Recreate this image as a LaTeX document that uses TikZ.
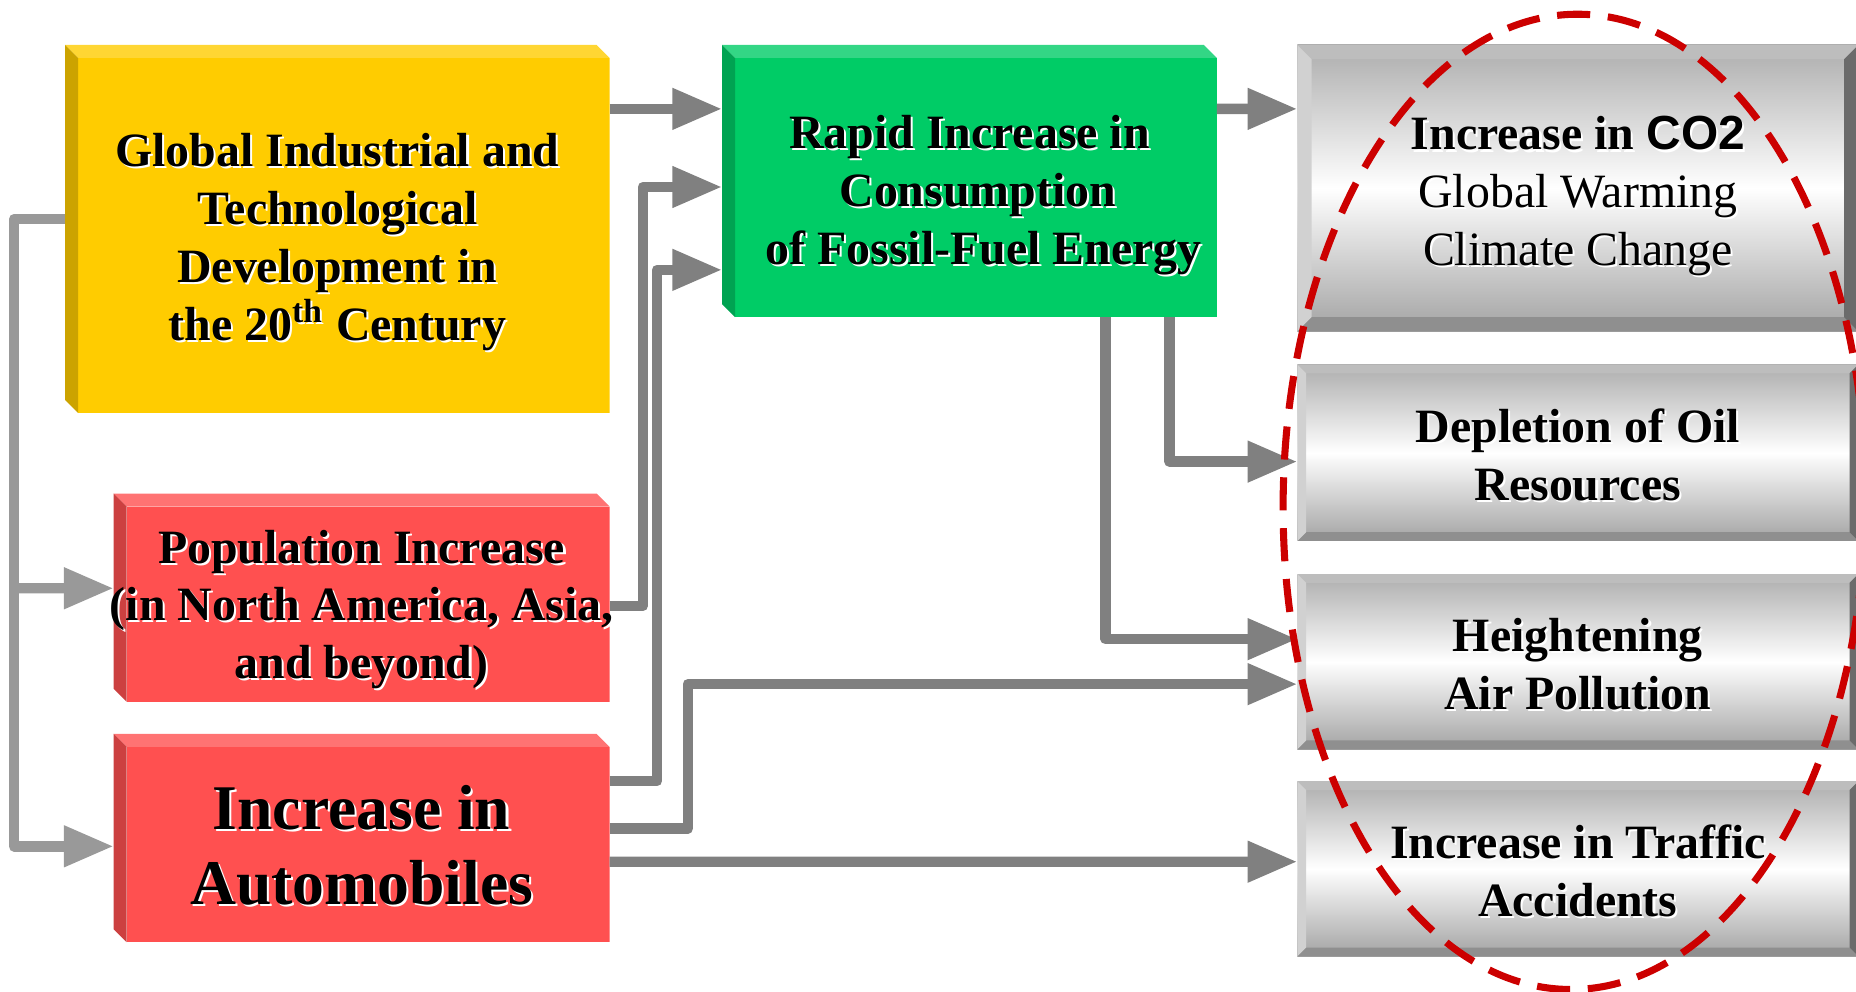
\documentclass[tikz,border=0pt]{standalone}
\usepackage{fontspec}
\setmainfont{Liberation Serif}
\setsansfont{Liberation Sans}
\usetikzlibrary{positioning,arrows.meta}

\definecolor{amarillo}{HTML}{FFCC00}
\definecolor{amarilloclaro}{HTML}{FFD633}
\definecolor{amarillooscuro}{HTML}{CCA300}
\definecolor{verde}{HTML}{00CC66}
\definecolor{verdeclaro}{HTML}{33D685}
\definecolor{verdeoscuro}{HTML}{00A352}
\definecolor{rojo}{HTML}{FF5050}
\definecolor{rojoclaro}{HTML}{FF7373}
\definecolor{rojooscuro}{HTML}{CC4040}
\definecolor{grisarriba}{HTML}{ADADAD}
\definecolor{grisabajo}{HTML}{A3A3A3}
\definecolor{biselsup}{HTML}{BDBDBD}
\definecolor{biselizq}{HTML}{D1D1D1}
\definecolor{biselinf}{HTML}{8F8F8F}
\definecolor{biselder}{HTML}{6B6B6B}
\definecolor{flechagris}{HTML}{808080}
\definecolor{flechaclara}{HTML}{999999}
\definecolor{elipse}{HTML}{CC0000}

\def\ppbb{path picture bounding box}
\newcommand{\consombra}[1]{\leavevmode\rlap{\kern0.5pt\raisebox{-0.5pt}{\textcolor{white}{#1}}}#1}
\newcommand{\puntal}[1]{\rule{0pt}{#1}}

\tikzset{
  estilo diagrama/.style={
      flecha/.style={draw=flechagris, line width=2.5pt, line join=round, -{Triangle[length=4.2mm,width=3.3mm]}},
      flecha clara/.style={flecha, draw=flechaclara},
      contorno/.style={draw=elipse, line width=1.7pt, dash pattern=on 2.8mm off 1.5mm},
      every node/.style={font={\fontsize{11.5}{13.9}\selectfont\bfseries}},
    },
  caja/.style n args={3}{rectangle, inner sep=0pt, outer sep=0pt, align=center,
      path picture={
        \fill[#1] ([xshift=1.1mm]\ppbb.south west) rectangle ([yshift=-1.1mm]\ppbb.north east);
        \fill[#2] (\ppbb.north west) -- ([xshift=-1.1mm]\ppbb.north east) -- ([yshift=-1.1mm]\ppbb.north east)
          -- ([shift={(1.1mm,-1.1mm)}]\ppbb.north west) -- cycle;
        \fill[#3] (\ppbb.north west) -- ([shift={(1.1mm,-1.1mm)}]\ppbb.north west) -- ([xshift=1.1mm]\ppbb.south west)
          -- ([yshift=1.1mm]\ppbb.south west) -- cycle;
      }},
  gris/.style={rectangle, inner sep=0pt, outer sep=0pt, align=center, minimum width=4.74cm,
      path picture={
        \shade[top color=grisarriba, bottom color=grisabajo, middle color=white] (\ppbb.south west) rectangle (\ppbb.north east);
        \fill[biselsup] (\ppbb.north west) -- (\ppbb.north east) -- ([shift={(-#1,-#1)}]\ppbb.north east)
          -- ([shift={(#1,-#1)}]\ppbb.north west) -- cycle;
        \fill[biselinf] (\ppbb.south west) -- (\ppbb.south east) -- ([shift={(-#1,#1)}]\ppbb.south east)
          -- ([shift={(#1,#1)}]\ppbb.south west) -- cycle;
        \fill[biselizq] (\ppbb.north west) -- ([shift={(#1,-#1)}]\ppbb.north west) -- ([shift={(#1,#1)}]\ppbb.south west)
          -- (\ppbb.south west) -- cycle;
        \fill[biselder] (\ppbb.north east) -- ([shift={(-#1,-#1)}]\ppbb.north east) -- ([shift={(-#1,#1)}]\ppbb.south east)
          -- (\ppbb.south east) -- cycle;
      }},
  gris/.default=0.75mm,
}

\begin{document}
\begin{tikzpicture}[estilo diagrama]
  \useasboundingbox (0,0) rectangle (15.68,8.38);

  % causas
  \node[caja={amarillo}{amarilloclaro}{amarillooscuro}, minimum width=4.6cm, minimum height=3.11cm, anchor=north west] (glob) at (0.55,8) {\puntal{14.7pt}\consombra{Global Industrial and}\\ \consombra{Technological}\\ \consombra{Development in}\\ \consombra{the 20\textsuperscript{th} Century}};
  \node[caja={verde}{verdeclaro}{verdeoscuro}, minimum width=4.18cm, minimum height=2.3cm, right=0.95cm of glob.north east, anchor=north west] (fuel) {\puntal{15.3pt}\consombra{Rapid Increase in}\\ \hspace*{0.14cm}\consombra{Consumption}\\ \hspace*{0.24cm}\consombra{of Fossil-Fuel Energy}};
  \node[caja={rojo}{rojoclaro}{rojooscuro}, minimum width=4.19cm, minimum height=1.76cm, below=0.68cm of glob.south east, anchor=north east] (pob) {\puntal{14.1pt}\consombra{Population Increase}\\ \makebox[0pt]{\consombra{(in North America, Asia,}}\\ \consombra{and beyond)}};
  \node[caja={rojo}{rojoclaro}{rojooscuro}, minimum width=4.19cm, minimum height=1.76cm, below=0.27cm of pob.south east, anchor=north east, font={\fontsize{15.3}{18.2}\selectfont\bfseries}] (auto) {\puntal{14.6pt}\consombra{Increase in}\\ \consombra{Automobiles}};

  % efectos
  \node[gris=1.2mm, minimum height=2.42cm, right=0.68cm of fuel.north east, anchor=north west] (co2) {\puntal{12.4pt}\consombra{Increase in \textsf{CO2}}\\ {\mdseries\consombra{Global Warming}}\\ {\mdseries\consombra{Climate Change}}};
  \node[gris, minimum height=1.49cm, below=0.28cm of co2.south west, anchor=north west] (oil) {\puntal{9.6pt}\consombra{Depletion of Oil}\\ \consombra{Resources}};
  \node[gris, minimum height=1.48cm, below=0.28cm of oil.south west, anchor=north west] (aire) {\puntal{9.6pt}\consombra{Heightening}\\ \consombra{Air Pollution}};
  \node[gris, minimum height=1.48cm, below=0.27cm of aire.south west, anchor=north west] (traf) {\puntal{9.6pt}\consombra{Increase in Traffic}\\ \consombra{Accidents}};

  \draw[flecha] ([yshift=1.015cm]glob.east) -- ([yshift=0.61cm]fuel.west);
  \draw[flecha] ([yshift=-0.07cm]pob.east) -- ++(0.28,0) |- ([yshift=-0.05cm]fuel.west);
  \draw[flecha] ([yshift=0.48cm]auto.east) -- ++(0.4,0) |- ([yshift=-0.75cm]fuel.west);
  \draw[flecha] ([yshift=0.08cm]auto.east) -- ++(0.66,0) |- ([yshift=-0.19cm]aire.west);
  \draw[flecha] ([yshift=-0.2cm]auto.east) -- ([yshift=0.06cm]traf.west);
  \draw[flecha] ([yshift=0.61cm]fuel.east) -- ([yshift=0.67cm]co2.west);
  \draw[flecha] ([xshift=1.69cm]fuel.south) |- ([yshift=-0.075cm]oil.west);
  \draw[flecha] ([xshift=1.15cm]fuel.south) |- ([yshift=0.19cm]aire.west);
  \draw[flecha clara] ([yshift=0.085cm]glob.west) -- ++(-0.43,0) |- ([yshift=-0.07cm]auto.west);
  \coordinate (ramal) at (0.12,3.41);
  \draw[flecha clara] (ramal) -- ([yshift=0.08cm]pob.west);

  % efectos globales
  \draw[contorno, rotate around={-0.6:(13.3,4.14)}] (13.3,4.14) ellipse [x radius=2.46cm, y radius=4.12cm];
\end{tikzpicture}
\end{document}
